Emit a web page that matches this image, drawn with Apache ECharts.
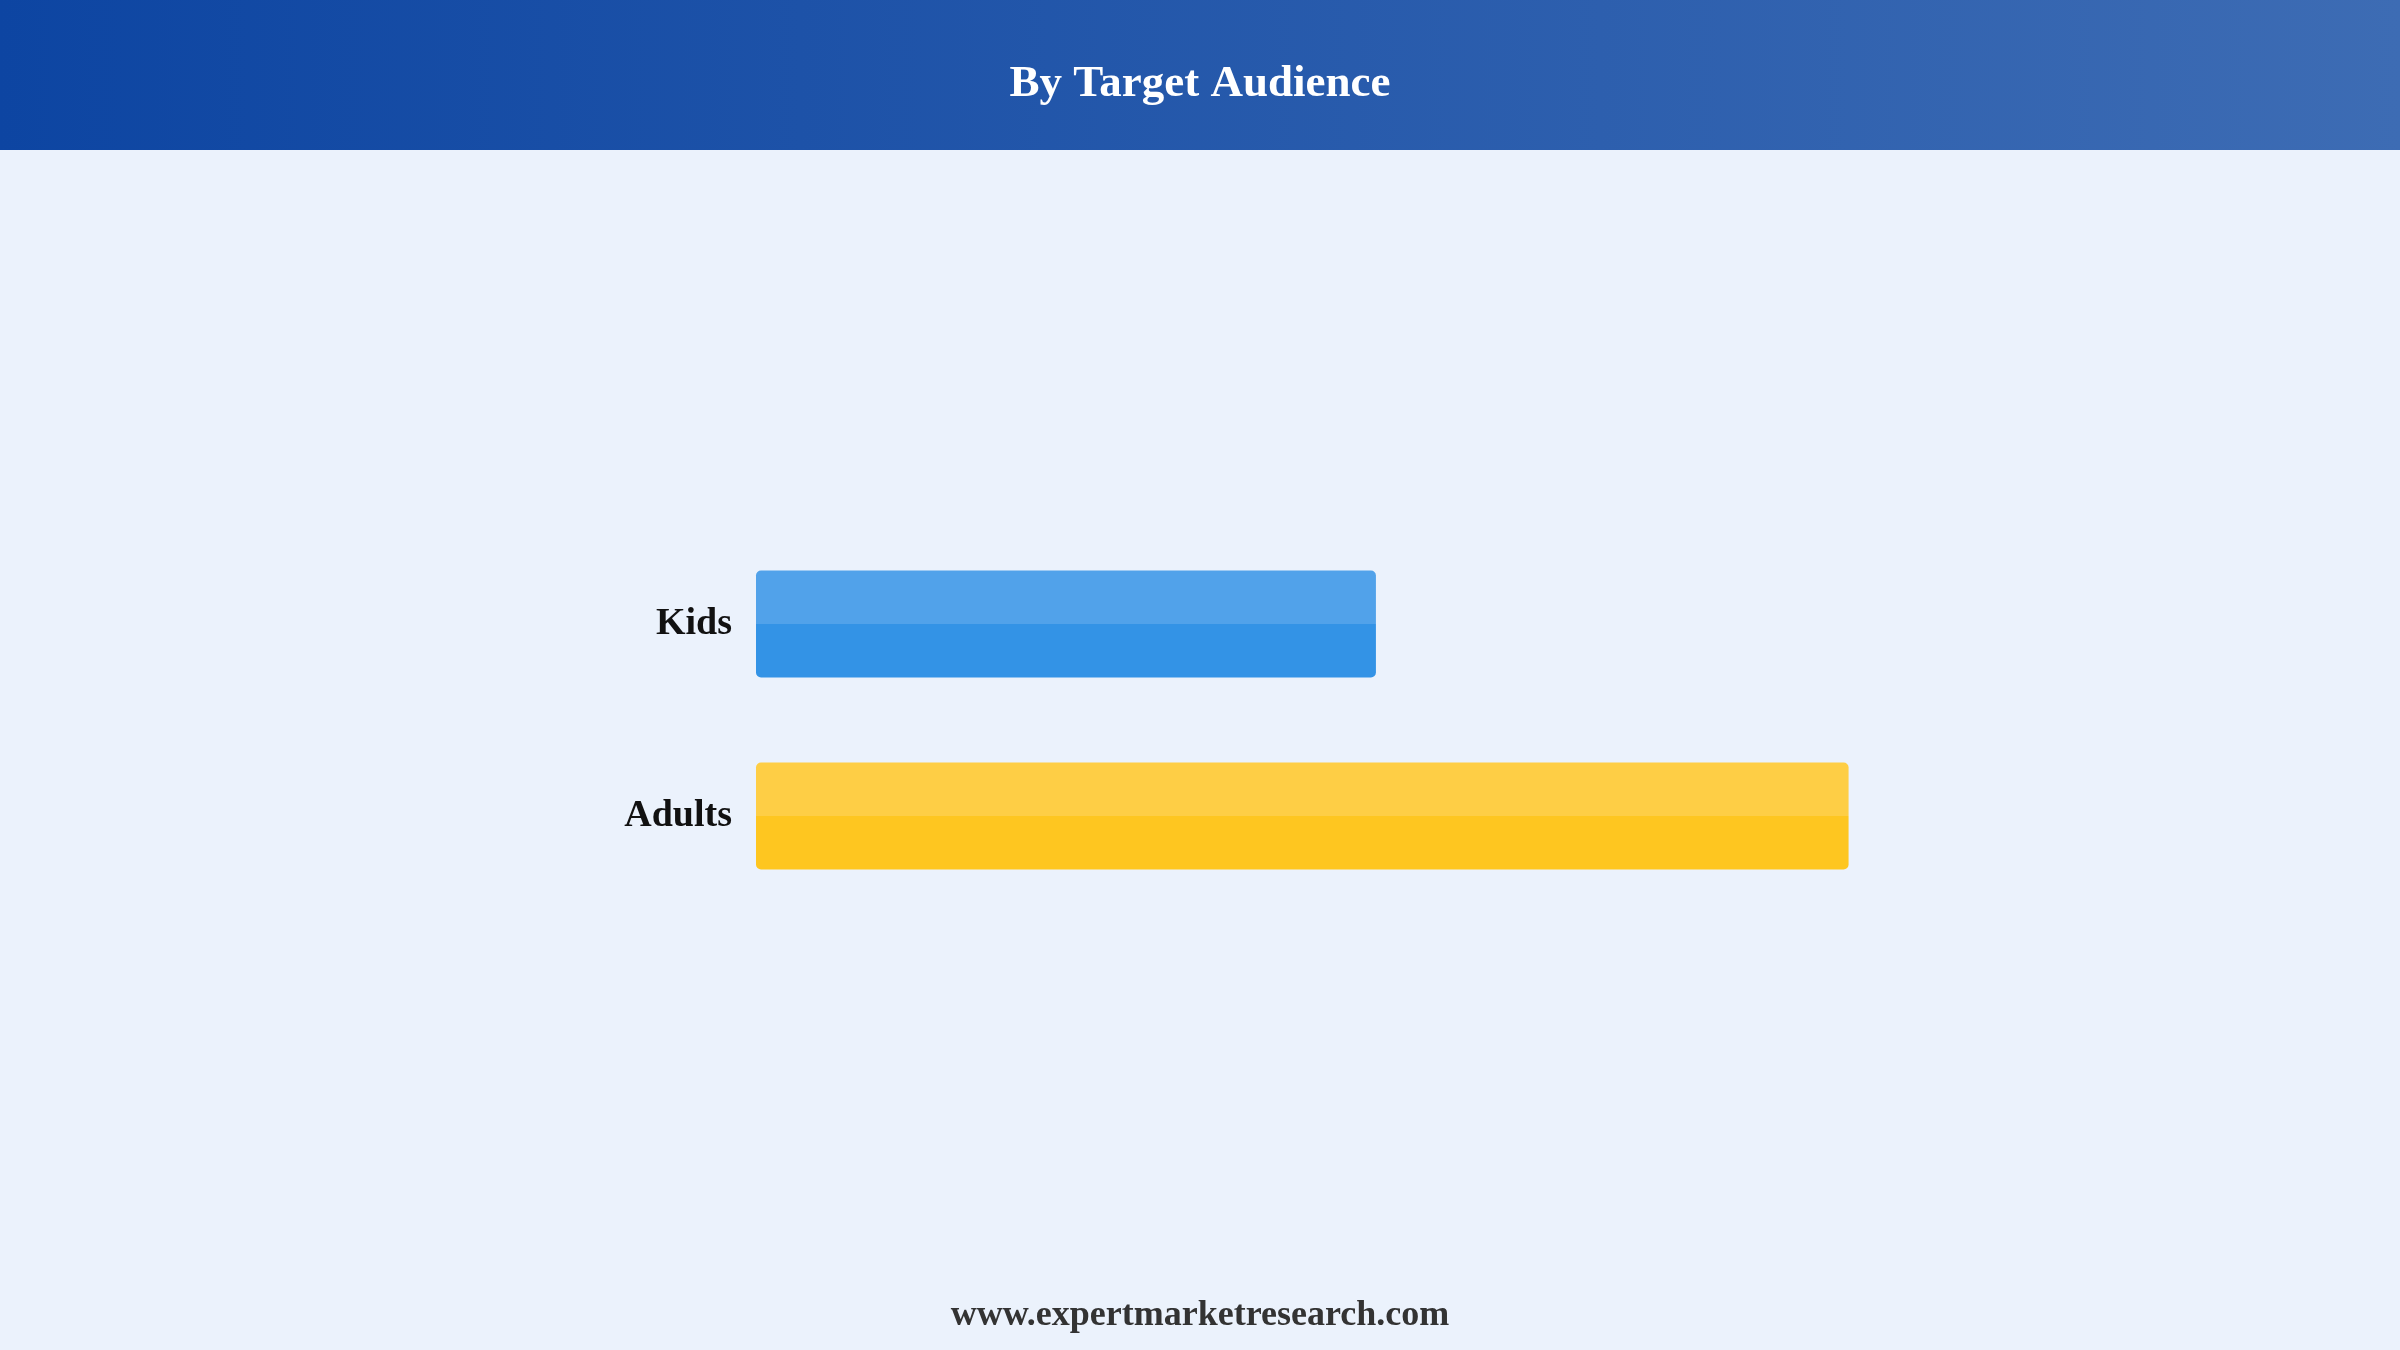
<!DOCTYPE html>
<html>
<head>
<meta charset="utf-8">
<script src="https://cdn.jsdelivr.net/npm/echarts@6/dist/echarts.min.js"></script>
<style>
html,body{margin:0;padding:0;background:#EBF2FC;}
#chart{width:2400px;height:1350px;}
</style>
</head>
<body>
<div id="chart"></div>
<script>
var categories = ['Kids', 'Adults'];
var values = [36.2, 63.8];
var titleText = 'By Target Audience';
var footerText = 'www.expertmarketresearch.com';

var barColors = [
  ['#51A2EA', '#3393E6'],
  ['#FECE45', '#FEC620']
];

var chart = echarts.init(document.getElementById('chart'));
var serif = '"Liberation Serif", "Times New Roman", serif';

chart.setOption({
  backgroundColor: '#EBF2FC',
  animation: false,
  graphic: [
    {
      type: 'rect',
      left: 0, top: 0,
      shape: { width: 2400, height: 150 },
      style: {
        fill: new echarts.graphic.LinearGradient(0, 0, 1, 0, [
          { offset: 0, color: '#0D45A2' },
          { offset: 1, color: '#3D6CB4' }
        ])
      },
      z: 0
    },
    {
      type: 'text',
      left: 'center',
      top: 1298,
      style: {
        text: footerText,
        font: 'bold 36px ' + serif,
        fill: '#333333'
      }
    }
  ],
  title: {
    text: titleText,
    left: 'center',
    top: 57,
    textStyle: {
      fontFamily: serif,
      fontWeight: 'bold',
      fontSize: 45,
      color: '#ffffff'
    }
  },
  grid: {
    left: 756,
    width: 1370,
    top: 528,
    height: 384,
    containLabel: false
  },
  xAxis: {
    type: 'value',
    min: 0,
    max: 80,
    show: false
  },
  yAxis: {
    type: 'category',
    data: categories,
    inverse: true,
    axisLine: { show: false },
    axisTick: { show: false },
    splitLine: { show: false },
    axisLabel: {
      margin: 24,
      fontFamily: serif,
      fontWeight: 'bold',
      fontSize: 38,
      color: '#111111',
      padding: [4, 0, 0, 0]
    }
  },
  series: [{
    type: 'bar',
    barWidth: 107,
    data: values.map(function (v, i) {
      return {
        value: v,
        itemStyle: {
          borderRadius: 5,
          color: new echarts.graphic.LinearGradient(0, 0, 0, 1, [
            { offset: 0, color: barColors[i][0] },
            { offset: 0.5, color: barColors[i][0] },
            { offset: 0.5, color: barColors[i][1] },
            { offset: 1, color: barColors[i][1] }
          ])
        }
      };
    })
  }]
});
</script>
</body>
</html>
